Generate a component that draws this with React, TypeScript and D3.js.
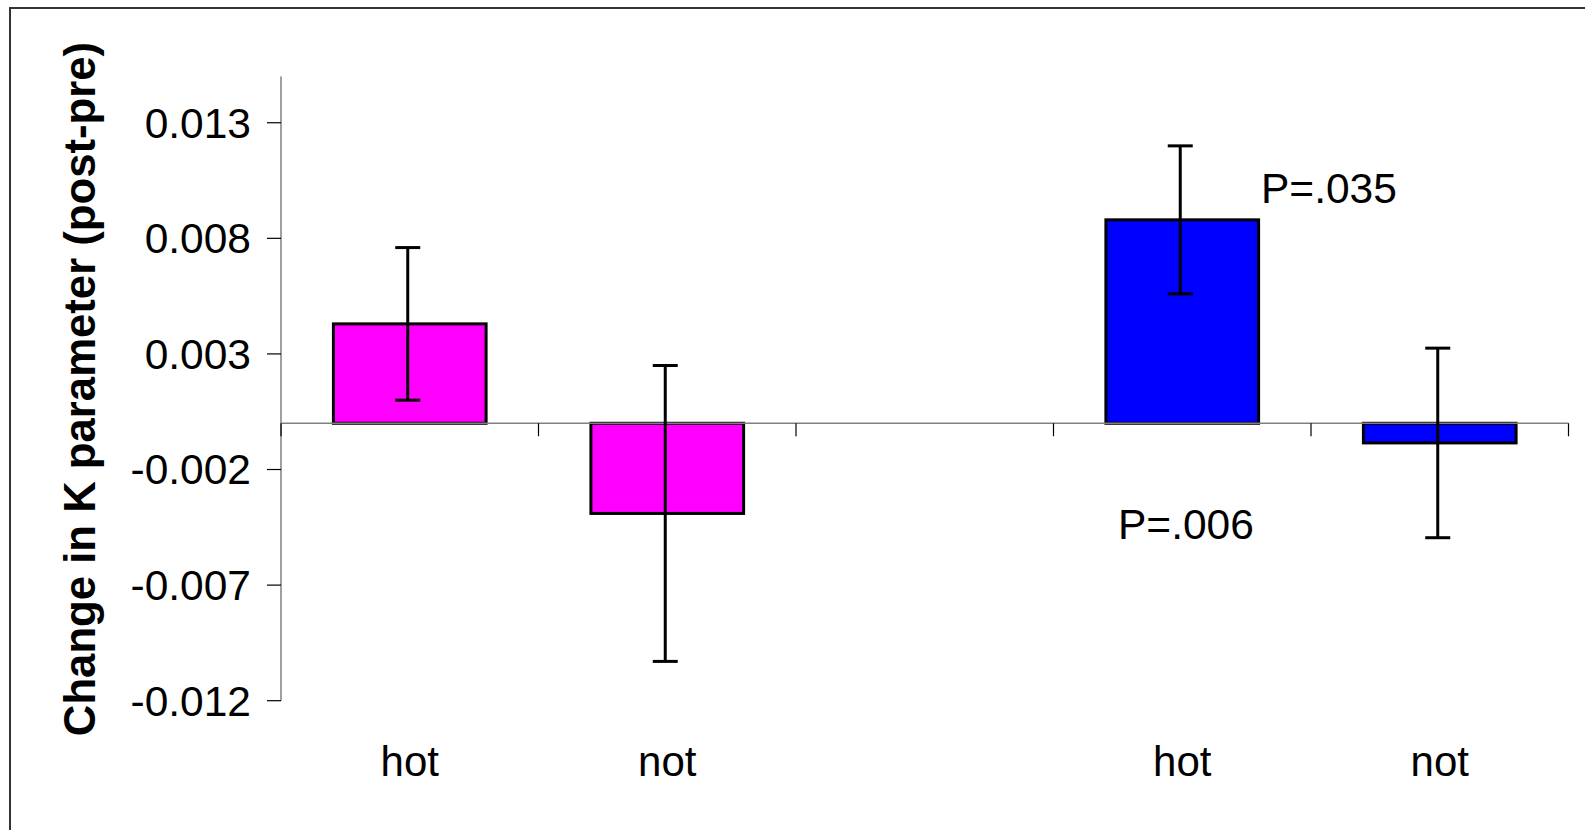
import React from "react";
import * as d3 from "d3";

const categoryIds = ["g1-hot", "g1-not", "gap", "g2-hot", "g2-not"];
const categoryLabels = ["hot", "not", "", "hot", "not"];
const meanValues: (number | null)[] = [0.0043, -0.0039, null, 0.0088, -0.00085];
const errorValues: (number | null)[] = [0.0033, 0.0064, null, 0.0032, 0.0041];
const barColors = ["#FF00FF", "#FF00FF", "none", "#0000FF", "#0000FF"];
const yTicks = [-0.012, -0.007, -0.002, 0.003, 0.008, 0.013];
const yTickLabels = ["-0.012", "-0.007", "-0.002", "0.003", "0.008", "0.013"];
const annotations = [
  { text: "P=.035", x: 1261, y: 203 },
  { text: "P=.006", x: 1118, y: 539 },
];

const W = 1585;
const H = 830;
const FONT = "'Liberation Sans', Arial, Helvetica, sans-serif";

export default function App() {
  const y = d3.scaleLinear().domain([-0.012, 0.015]).range([700.7, 76.5]);
  const x = d3
    .scaleBand<string>()
    .domain(categoryIds)
    .range([281, 1568.5])
    .paddingInner(0.407)
    .paddingOuter(0.2035);
  const step = x.step();
  const left = 281;
  const right = 1568.5;
  const y0 = y(0);

  return (
    <svg
      width={W}
      height={H}
      style={{ position: "absolute", left: 0, top: 0, background: "#fff" }}
      fontFamily={FONT}
    >
      <rect x={0} y={0} width={W} height={H} fill="#fff" />
      {/* outer chart border */}
      <rect x={10} y={8} width={1700} height={1000} fill="none" stroke="#333" strokeWidth={2} />

      {/* y axis */}
      <line x1={left} x2={left} y1={y(0.015)} y2={y(-0.012)} stroke="#808080" strokeWidth={1.5} />
      {yTicks.map((t, i) => (
        <g key={i}>
          <line x1={left - 14} x2={left} y1={y(t)} y2={y(t)} stroke="#000" strokeWidth={1.2} />
          <text
            x={251}
            y={y(t)}
            dy="0.35em"
            textAnchor="end"
            fontSize={42.5}
            fill="#000"
          >
            {yTickLabels[i]}
          </text>
        </g>
      ))}

      {/* bars */}
      {categoryIds.map((c, i) => {
        const v = meanValues[i];
        if (v === null) return null;
        const bx = x(c)!;
        const top = Math.min(y(v), y0);
        const h = Math.abs(y(v) - y0);
        return (
          <rect
            key={c}
            x={bx}
            y={top}
            width={x.bandwidth()}
            height={h}
            fill={barColors[i]}
            stroke="#000"
            strokeWidth={3}
          />
        );
      })}

      {/* x axis at zero */}
      <line x1={left} x2={right} y1={y0} y2={y0} stroke="#808080" strokeWidth={1.5} />
      {d3.range(categoryIds.length + 1).map((k) => (
        <line
          key={k}
          x1={left + k * step}
          x2={left + k * step}
          y1={y0}
          y2={y0 + 13}
          stroke="#000"
          strokeWidth={1.2}
        />
      ))}

      {/* error bars */}
      {categoryIds.map((c, i) => {
        const v = meanValues[i];
        const e = errorValues[i];
        if (v === null || e === null) return null;
        const cx = x(c)! + x.bandwidth() / 2 - 2;
        const yt = y(v + e);
        const yb = y(v - e);
        return (
          <g key={"e" + c} stroke="#000" strokeWidth={3}>
            <line x1={cx} x2={cx} y1={yt} y2={yb} />
            <line x1={cx - 12.5} x2={cx + 12.5} y1={yt} y2={yt} />
            <line x1={cx - 12.5} x2={cx + 12.5} y1={yb} y2={yb} />
          </g>
        );
      })}

      {/* category labels */}
      {categoryIds.map((c, i) => (
        <text
          key={"l" + c}
          x={x(c)! + x.bandwidth() / 2}
          y={776}
          textAnchor="middle"
          fontSize={42}
          fill="#000"
        >
          {categoryLabels[i]}
        </text>
      ))}

      {/* annotations */}
      {annotations.map((a, i) => (
        <text key={"a" + i} x={a.x} y={a.y} fontSize={42.5} fill="#000">
          {a.text}
        </text>
      ))}

      {/* y axis title */}
      <text
        transform={`translate(95, 389) rotate(-90)`}
        textAnchor="middle"
        fontSize={43.7}
        fontWeight="bold"
        fill="#000"
      >
        Change in K parameter (post-pre)
      </text>
    </svg>
  );
}
